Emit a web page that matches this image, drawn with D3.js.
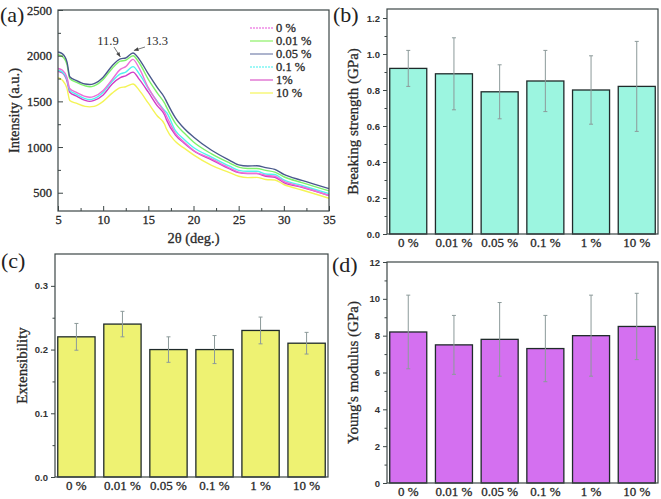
<!DOCTYPE html>
<html>
<head>
<meta charset="utf-8">
<script src="https://cdn.jsdelivr.net/npm/d3@7"></script>
<style>
  body { margin: 0; background: #fff; }
  svg { display: block; }
  .serif { font-family: "Liberation Serif", "Times New Roman", serif; }
  .sans { font-family: "Liberation Sans", Arial, sans-serif; }
</style>
</head>
<body>
<div id="chart"></div>
<script>
// ---- data ----
const groups = ["0 %", "0.01 %", "0.05 %", "0.1 %", "1 %", "10 %"];

const strength = [0.92, 0.89, 0.79, 0.85, 0.80, 0.82];
const strengthErr = [0.10, 0.20, 0.15, 0.17, 0.19, 0.25];

const extensibility = [0.22, 0.24, 0.20, 0.20, 0.23, 0.21];
const extensibilityErr = [0.021, 0.020, 0.020, 0.022, 0.021, 0.017];

const modulus = [8.2, 7.5, 7.8, 7.3, 8.0, 8.5];
const modulusErr = [2.0, 1.6, 2.0, 1.8, 2.2, 1.8];

// XRD curves
const twoTheta = [5, 5.5, 6, 6.3, 7, 8, 8.5, 9, 10, 11, 11.9, 12.5, 13.3, 14, 15, 16, 16.8, 17, 18, 19, 20, 22, 24, 25, 26, 27, 28, 29, 30, 32, 35];
const xrd0 = [1860, 1840, 1760, 1640, 1600, 1555, 1545, 1555, 1620, 1740, 1850, 1880, 1960, 1860, 1650, 1490, 1380, 1340, 1150, 1050, 965, 870, 770, 725, 712, 712, 690, 680, 625, 565, 470];
const xrd001 = [2010, 1990, 1900, 1750, 1710, 1670, 1660, 1670, 1740, 1860, 1940, 1950, 2000, 1920, 1740, 1590, 1480, 1440, 1260, 1150, 1055, 925, 825, 780, 765, 765, 745, 725, 675, 610, 520];
const xrd005 = [2040, 2020, 1930, 1770, 1730, 1690, 1685, 1695, 1765, 1890, 1965, 1975, 2030, 1960, 1800, 1650, 1540, 1500, 1320, 1200, 1110, 965, 855, 805, 792, 795, 775, 755, 700, 635, 545];
const xrd01 = [1840, 1820, 1740, 1620, 1580, 1530, 1520, 1530, 1600, 1720, 1800, 1820, 1880, 1800, 1640, 1500, 1400, 1380, 1180, 1080, 995, 890, 790, 745, 735, 735, 705, 700, 640, 580, 490];
const xrd1 = [1830, 1810, 1720, 1600, 1560, 1510, 1500, 1510, 1570, 1690, 1760, 1780, 1820, 1740, 1600, 1450, 1350, 1300, 1130, 1040, 960, 860, 760, 720, 710, 710, 680, 670, 610, 560, 470];
const xrd10 = [1760, 1730, 1640, 1510, 1480, 1445, 1440, 1445, 1500, 1590, 1650, 1660, 1690, 1620, 1480, 1340, 1250, 1200, 1060, 985, 915, 800, 720, 680, 665, 668, 645, 640, 590, 530, 440];

const xrdNames = ["0 %", "0.01 %", "0.05 %", "0.1 %", "1%", "10 %"];
const xrdSeries = [xrd0, xrd001, xrd005, xrd01, xrd1, xrd10];
const xrdColors = ["#ec6fd8", "#7ef26a", "#4a5a8c", "#4ff4f0", "#d23cc6", "#f4f456"];
const xrdLegendColors = ["#f08ae6", "#9cf27c", "#8a94b8", "#7ff6f4", "#e070d0", "#f6f670"];
const xrdDash = ["2,1", null, null, "2,1", null, null];

// ---- drawing ----
const W = 661, H = 499;
const svg = d3.select("#chart").append("svg").attr("width", W).attr("height", H);

const frameColor = "#3c4646";
const textColor = "#2a2a2a";

function frame(g, x0, y0, x1, y1) {
  g.append("rect")
    .attr("x", x0).attr("y", y0)
    .attr("width", x1 - x0).attr("height", y1 - y0)
    .attr("fill", "none").attr("stroke", frameColor).attr("stroke-width", 1.2);
}

function panelLabel(text, x, y) {
  svg.append("text").attr("class", "serif")
    .attr("x", x).attr("y", y)
    .attr("font-size", 22).attr("fill", "#222")
    .text(text);
}

function styleAxis(g) {
  g.select(".domain").remove();
  g.selectAll(".tick line").attr("stroke", frameColor).attr("stroke-width", 1);
}

function serifText(sel, size) {
  sel.attr("class", "serif").attr("font-size", size).attr("font-weight", "normal")
    .attr("fill", textColor).attr("stroke", textColor).attr("stroke-width", 0.3);
}

// ---- (a) XRD ----
(function () {
  const x0 = 58, x1 = 329, y0 = 10, y1 = 211;
  const x = d3.scaleLinear().domain([5, 35]).range([x0, x1]);
  const y = d3.scaleLinear().domain([300, 2500]).range([y1, y0]);
  const g = svg.append("g");

  const line = d3.line()
    .x((d, i) => x(twoTheta[i]))
    .y((d) => y(d))
    .curve(d3.curveMonotoneX);

  // draw low curves first so the top curves sit above
  [5, 4, 3, 0, 1, 2].forEach((k) => {
    g.append("path")
      .attr("d", line(xrdSeries[k]))
      .attr("fill", "none")
      .attr("stroke", xrdColors[k])
      .attr("stroke-width", 1.4);
  });

  frame(g, x0, y0, x1, y1);

  // bottom axis, inward ticks
  g.append("g").attr("transform", `translate(0,${y1})`)
    .call(d3.axisBottom(x).tickValues([5, 10, 15, 20, 25, 30, 35]).tickSize(-5).tickPadding(4))
    .call(styleAxis)
    .call((a) => serifText(a.selectAll("text"), 12.5));
  g.append("g").attr("transform", `translate(0,${y1})`)
    .call(d3.axisBottom(x).tickValues(d3.range(7.5, 35, 5)).tickSize(-3).tickFormat(""))
    .call(styleAxis);

  g.append("g").attr("transform", `translate(${x0},0)`)
    .call(d3.axisLeft(y).tickValues([500, 1000, 1500, 2000, 2500]).tickFormat(d3.format("d")).tickSize(-5).tickPadding(6))
    .call(styleAxis)
    .call((a) => serifText(a.selectAll("text"), 12.5));
  g.append("g").attr("transform", `translate(${x0},0)`)
    .call(d3.axisLeft(y).tickValues([750, 1250, 1750, 2250]).tickSize(-3).tickFormat(""))
    .call(styleAxis);

  g.append("text")
    .attr("x", (x0 + x1) / 2).attr("y", 243)
    .attr("text-anchor", "middle")
    .call((t) => serifText(t, 14.5))
    .text("2θ (deg.)");
  g.append("text")
    .attr("transform", `translate(19,${(y0 + y1) / 2}) rotate(-90)`)
    .attr("text-anchor", "middle")
    .call((t) => serifText(t, 14.5))
    .text("Intensity (a.u.)");

  // peak annotations
  const ann = [
    { t: "11.9", tx: 108, ty: 45, ax: 11.9, ay: 1965, ox: 114, oy: 47 },
    { t: "13.3", tx: 157, ty: 45, ax: 13.4, ay: 2035, ox: 145, oy: 47 }
  ];
  ann.forEach((a) => {
    g.append("text")
      .attr("x", a.tx).attr("y", a.ty).attr("text-anchor", "middle")
      .call((t) => serifText(t, 12.5))
      .attr("stroke-width", 0)
      .text(a.t);
    const px = x(a.ax), py = y(a.ay);
    g.append("line").attr("x1", a.ox).attr("y1", a.oy).attr("x2", px).attr("y2", py - 2)
      .attr("stroke", "#555").attr("stroke-width", 0.8);
    const ang = Math.atan2(py - 2 - a.oy, px - a.ox);
    const s = 5;
    const tip = [px, py - 2];
    const p1 = [tip[0] - s * Math.cos(ang - 0.4), tip[1] - s * Math.sin(ang - 0.4)];
    const p2 = [tip[0] - s * Math.cos(ang + 0.4), tip[1] - s * Math.sin(ang + 0.4)];
    g.append("path").attr("d", `M${tip}L${p1}L${p2}Z`).attr("fill", "#444");
  });

  // legend
  const lg = g.append("g");
  xrdNames.forEach((n, i) => {
    const yy = 28 + i * 13;
    lg.append("line").attr("x1", 250).attr("x2", 273).attr("y1", yy).attr("y2", yy)
      .attr("stroke", xrdLegendColors[i]).attr("stroke-width", 1.4)
      .attr("stroke-dasharray", xrdDash[i]);
    lg.append("text")
      .attr("x", 276).attr("y", yy + 4)
      .call((t) => serifText(t, 12.5))
      .text(n);
  });
})();

// ---- bar panels ----
function barPanel(opt) {
  const { x0, x1, y0, y1, values, errs, domain, major, minor, fmt, fill, title, titleX } = opt;
  const g = svg.append("g");
  const x = d3.scaleBand().domain(groups).range([x0, x1]).paddingInner(0.19).paddingOuter(0.06);
  const y = d3.scaleLinear().domain(domain).range([y1, y0]);

  g.selectAll(".bar").data(values).join("rect")
    .attr("x", (d, i) => x(groups[i]))
    .attr("y", (d) => y(d))
    .attr("width", x.bandwidth())
    .attr("height", (d) => y(0) - y(d))
    .attr("fill", fill)
    .attr("stroke", "#1f2a2a").attr("stroke-width", 1.3);

  const eb = g.selectAll(".err").data(values).join("g").attr("stroke", "#8c9a9a").attr("stroke-width", 1);
  eb.append("line")
    .attr("x1", (d, i) => x(groups[i]) + x.bandwidth() / 2)
    .attr("x2", (d, i) => x(groups[i]) + x.bandwidth() / 2)
    .attr("y1", (d, i) => y(d + errs[i]))
    .attr("y2", (d, i) => y(d - errs[i]));
  [1, -1].forEach((sgn) => {
    eb.append("line")
      .attr("x1", (d, i) => x(groups[i]) + x.bandwidth() / 2 - 2)
      .attr("x2", (d, i) => x(groups[i]) + x.bandwidth() / 2 + 2)
      .attr("y1", (d, i) => y(d + sgn * errs[i]))
      .attr("y2", (d, i) => y(d + sgn * errs[i]));
  });

  frame(g, x0, y0, x1, y1);

  g.append("g").attr("transform", `translate(${x0},0)`)
    .call(d3.axisLeft(y).tickValues(major).tickFormat(fmt).tickSize(4).tickPadding(3))
    .call(styleAxis)
    .call((a) => a.selectAll("text").attr("class", "sans").attr("font-size", 9.5)
      .attr("font-weight", "bold").attr("fill", "#333"));
  g.append("g").attr("transform", `translate(${x0},0)`)
    .call(d3.axisLeft(y).tickValues(minor).tickFormat("").tickSize(2.5))
    .call(styleAxis);

  g.append("g").attr("transform", `translate(0,${y1})`)
    .call(d3.axisBottom(x).tickSize(0).tickPadding(4))
    .call(styleAxis)
    .call((a) => serifText(a.selectAll("text"), 13));

  g.append("text")
    .attr("transform", `translate(${titleX},${(y0 + y1) / 2}) rotate(-90)`)
    .attr("text-anchor", "middle")
    .call((t) => serifText(t, 15))
    .text(title);
}

barPanel({
  x0: 387, x1: 658, y0: 9, y1: 234,
  values: strength, errs: strengthErr,
  domain: [0, 1.25], major: d3.range(0, 1.21, 0.2), minor: d3.range(0.1, 1.21, 0.2),
  fmt: d3.format(".1f"), fill: "#9cf5e0",
  title: "Breaking strength (GPa)", titleX: 358
});

barPanel({
  x0: 55, x1: 328, y0: 254, y1: 477,
  values: extensibility, errs: extensibilityErr,
  domain: [0, 0.35], major: [0, 0.1, 0.2, 0.3], minor: [0.05, 0.15, 0.25],
  fmt: (d) => (d === 0 ? "0.0" : d3.format(".1f")(d)), fill: "#eef272",
  title: "Extensibility", titleX: 27
});

barPanel({
  x0: 387, x1: 658, y0: 262, y1: 483,
  values: modulus, errs: modulusErr,
  domain: [0, 12], major: d3.range(0, 12.1, 2), minor: d3.range(1, 12, 2),
  fmt: d3.format("d"), fill: "#d470f0",
  title: "Young's modulus (GPa)", titleX: 358
});

panelLabel("(a)", 0, 22);
panelLabel("(b)", 333, 22);
panelLabel("(c)", 1, 268);
panelLabel("(d)", 332, 272);
</script>
</body>
</html>
